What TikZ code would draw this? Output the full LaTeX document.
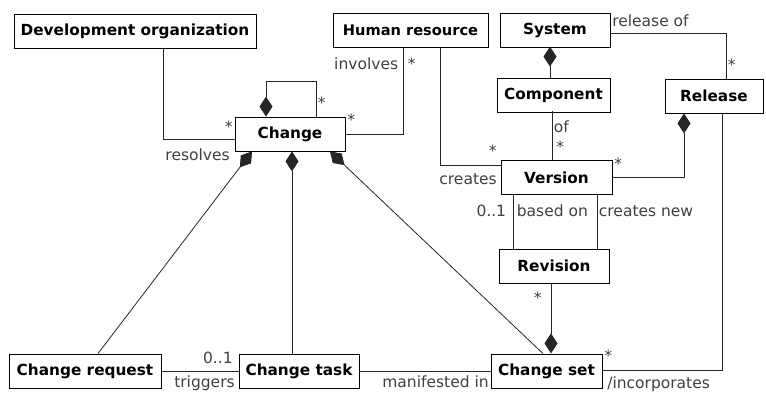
\documentclass[tikz,border=0pt]{standalone}
\usepackage{fontspec}
\setmainfont{DejaVu Sans}
\usetikzlibrary{arrows.meta}

\tikzset{
  cls/.style={draw, line width=0.8pt, minimum height=34pt, inner xsep=4pt,
    font=\fontsize{15.3}{16}\selectfont\bfseries},
  lbl/.style={inner sep=1.5pt, text=black!75, font=\fontsize{15.5}{16}\selectfont},
  assoc/.style={line width=0.8pt, black!85},
  comp/.style={assoc, -{Diamond[length=20pt,width=13pt]}},
}

\begin{document}
\begin{tikzpicture}[x=1pt,y=1pt]
  \useasboundingbox (0,0) rectangle (766,394);

  % classes
  \node[cls, minimum width=242pt] (devorg)     at (135,362.5)   {Development organization};
  \node[cls, minimum width=155pt, inner xsep=2pt, font=\fontsize{14.6}{16}\selectfont\bfseries]
                                  (human)      at (410.5,363.5) {Human resource};
  \node[cls, minimum width=110pt] (system)     at (555,364)     {System};
  \node[cls, minimum width=113pt] (component)  at (553.5,299)   {Component};
  \node[cls, minimum width=98pt]  (release)    at (714,298)     {Release};
  \node[cls, minimum width=110pt] (change)     at (290,260)     {Change};
  \node[cls, minimum width=111pt] (version)    at (556.5,216.5) {Version};
  \node[cls, minimum width=110pt] (revision)   at (554,128)     {Revision};
  \node[cls, minimum width=152pt] (changereq)  at (85,23)       {Change request};
  \node[cls, minimum width=120pt] (changetask) at (299,23)      {Change task};
  \node[cls, minimum width=111pt] (changeset)  at (546.5,23)    {Change set};

  % associations around Change
  \draw[assoc] ([xshift=28pt]devorg.south) |- ([yshift=-5pt]change.west)
    node[lbl, above left, yshift=4.6pt] {*}
    node[lbl, below left, xshift=-3pt, yshift=-7.5pt] {resolves};
  \draw[comp] ([xshift=26pt]change.north) -- ++(0,35)
    node[lbl, right, pos=0.41] {*} -| ([xshift=-24pt]change.north);
  \draw[assoc] ([xshift=-7.5pt]human.south)
    node[lbl, below left, xshift=-3pt, yshift=-7.5pt] {involves}
    node[lbl, below right, xshift=3pt, yshift=-8pt] {*}
    |- (change.east) node[lbl, above right, yshift=6.6pt] {*};
  \draw[assoc] ([xshift=29.5pt]human.south) |- ([yshift=12.5pt]version.west)
    node[lbl, above left, xshift=-2pt, yshift=6.6pt] {*}
    node[lbl, below left, xshift=-2pt, yshift=-7pt] {creates};

  % system structure
  \draw[comp] ([xshift=-3.5pt]component.north) -- ++(0,31);
  \draw[assoc] ([yshift=-3pt]system.east)
    node[lbl, above right, yshift=4.8pt] {release of}
    -| ([xshift=12pt]release.north) node[lbl, above right, yshift=6.3pt] {*};
  \draw[assoc] ([xshift=-4.5pt]version.north) -- ++(0,49)
    node[lbl, right, pos=0.27, xshift=2.5pt] {*}
    node[lbl, right, pos=0.68] {of};
  \draw[comp] (version.east) node[lbl, above right, yshift=5.7pt] {*}
    -| ([xshift=-30pt]release.south);

  % versions and revisions
  \draw[assoc] ([xshift=-43.5pt]version.south) -- ++(0,-55)
    node[lbl, left, pos=0.29, xshift=-5pt] {0..1}
    node[lbl, right, pos=0.29, xshift=2pt] {based on};
  \draw[assoc] ([xshift=40.5pt]version.south) -- ++(0,-55)
    node[lbl, right, pos=0.29] {creates new};
  \draw[comp] ([xshift=-3pt]revision.south) -- ++(0,-70)
    node[lbl, left, pos=0.2, xshift=-7.5pt] {*};
  \draw[assoc] ([xshift=8pt]release.south) |- ([yshift=1pt]changeset.east)
    node[lbl, above right, yshift=6.3pt] {*}
    node[lbl, below right, xshift=3pt, yshift=-4.5pt] {/incorporates};

  % bottom row
  \draw[assoc] (changereq.east) -- (changereq.east -| changetask.west)
    node[lbl, above left, xshift=-4pt, yshift=5.5pt] {0..1}
    node[lbl, below left, xshift=-2pt, yshift=-2.5pt] {triggers};
  \draw[assoc] (changetask.east) -- (changetask.east -| changeset.west)
    node[lbl, below left, yshift=-2.5pt] {manifested in};

  % parts of a change
  \draw[comp] ([xshift=13pt]changereq.north) -- ([xshift=-38pt]change.south);
  \draw[comp] ([xshift=-7pt]changetask.north) -- ([xshift=2pt]change.south);
  \draw[comp] ([xshift=-3.5pt]changeset.north) -- ([xshift=40pt]change.south);
\end{tikzpicture}
\end{document}
